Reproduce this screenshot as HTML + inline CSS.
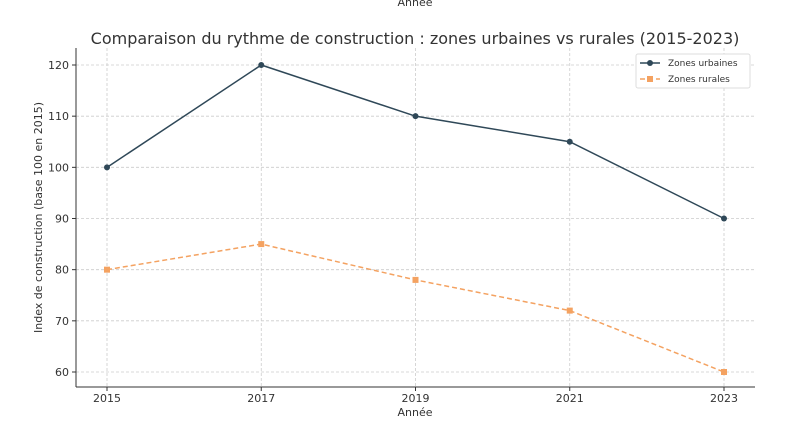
<!DOCTYPE html>
<html><head><meta charset="utf-8"><style>body{margin:0;background:#fff}svg{display:block;font-family:"DejaVu Sans","Liberation Sans",sans-serif}</style></head>
<body>
<svg id="c" width="799" height="425"></svg>
<script>
const years=[2015,2017,2019,2021,2023];
const urban=[100,120,110,105,90];
const rural=[80,85,78,72,60];
const yTicks=[60,70,80,90,100,110,120];
const NS="http://www.w3.org/2000/svg";
const svg=document.getElementById('c');
const L=76,R=755,T=48,B=387;
const x=v=>107+(v-2015)*(724-107)/8;
const y=v=>372-(v-60)*(372-65)/60;
function el(t,a,txt){const e=document.createElementNS(NS,t);for(const k in a)e.setAttribute(k,a[k]);if(txt!==undefined)e.textContent=txt;svg.appendChild(e);return e;}
let e;
e=el('text',{x:415,y:6,'text-anchor':'middle','font-size':11,fill:'#333'},'Année');


e=el('text',{x:415,y:44,'text-anchor':'middle','font-size':16,fill:'#333'},'Comparaison du rythme de construction : zones urbaines vs rurales (2015-2023)');


yTicks.forEach(v=>{
e=el('line',{x1:L,x2:R,y1:y(v),y2:y(v),stroke:'#ccc','stroke-dasharray':'3,2','stroke-width':0.8});


el('line',{x1:L-4,x2:L,y1:y(v),y2:y(v),stroke:'#333'});
e=el('text',{x:L-7,y:y(v)+4,'text-anchor':'end','font-size':11,fill:'#333'},v);


});
years.forEach(v=>{
e=el('line',{x1:x(v),x2:x(v),y1:T,y2:B,stroke:'#ccc','stroke-dasharray':'3,2','stroke-width':0.8});


el('line',{x1:x(v),x2:x(v),y1:B,y2:B+4,stroke:'#333'});
e=el('text',{x:x(v),y:B+15,'text-anchor':'middle','font-size':11,fill:'#333'},v);


});
el('line',{x1:L,x2:L,y1:T,y2:B,stroke:'#333'});
el('line',{x1:L,x2:R,y1:B,y2:B,stroke:'#333'});
e=el('text',{x:415,y:416,'text-anchor':'middle','font-size':11,fill:'#333'},'Année');


e=el('text',{x:0,y:0,'text-anchor':'middle','font-size':11,fill:'#333',transform:`translate(42,${(T+B)/2}) rotate(-90)`},'Index de construction (base 100 en 2015)');


e=el('polyline',{points:years.map((v,i)=>x(v)+','+y(urban[i])).join(' '),fill:'none',stroke:'#2f4858','stroke-width':1.5});


years.forEach((v,i)=>{e=el('circle',{cx:x(v),cy:y(urban[i]),r:3,fill:'#2f4858'});

});
e=el('polyline',{points:years.map((v,i)=>x(v)+','+y(rural[i])).join(' '),fill:'none',stroke:'#f4a261','stroke-width':1.5,'stroke-dasharray':'5,3'});


years.forEach((v,i)=>{e=el('rect',{x:x(v)-3,y:y(rural[i])-3,width:6,height:6,fill:'#f4a261'});

});
e=el('rect',{x:636,y:54,width:114,height:34,fill:'#fff',stroke:'#ddd',rx:2});


el('line',{x1:640,x2:660,y1:63,y2:63,stroke:'#2f4858','stroke-width':1.5});
el('circle',{cx:650,cy:63,r:3,fill:'#2f4858'});
e=el('text',{x:668,y:66,'font-size':9,fill:'#333'},'Zones urbaines');


el('line',{x1:640,x2:660,y1:79,y2:79,stroke:'#f4a261','stroke-width':1.5,'stroke-dasharray':'5,3'});
el('rect',{x:647,y:76,width:6,height:6,fill:'#f4a261'});
e=el('text',{x:668,y:82,'font-size':9,fill:'#333'},'Zones rurales');


</script>
</body></html>
